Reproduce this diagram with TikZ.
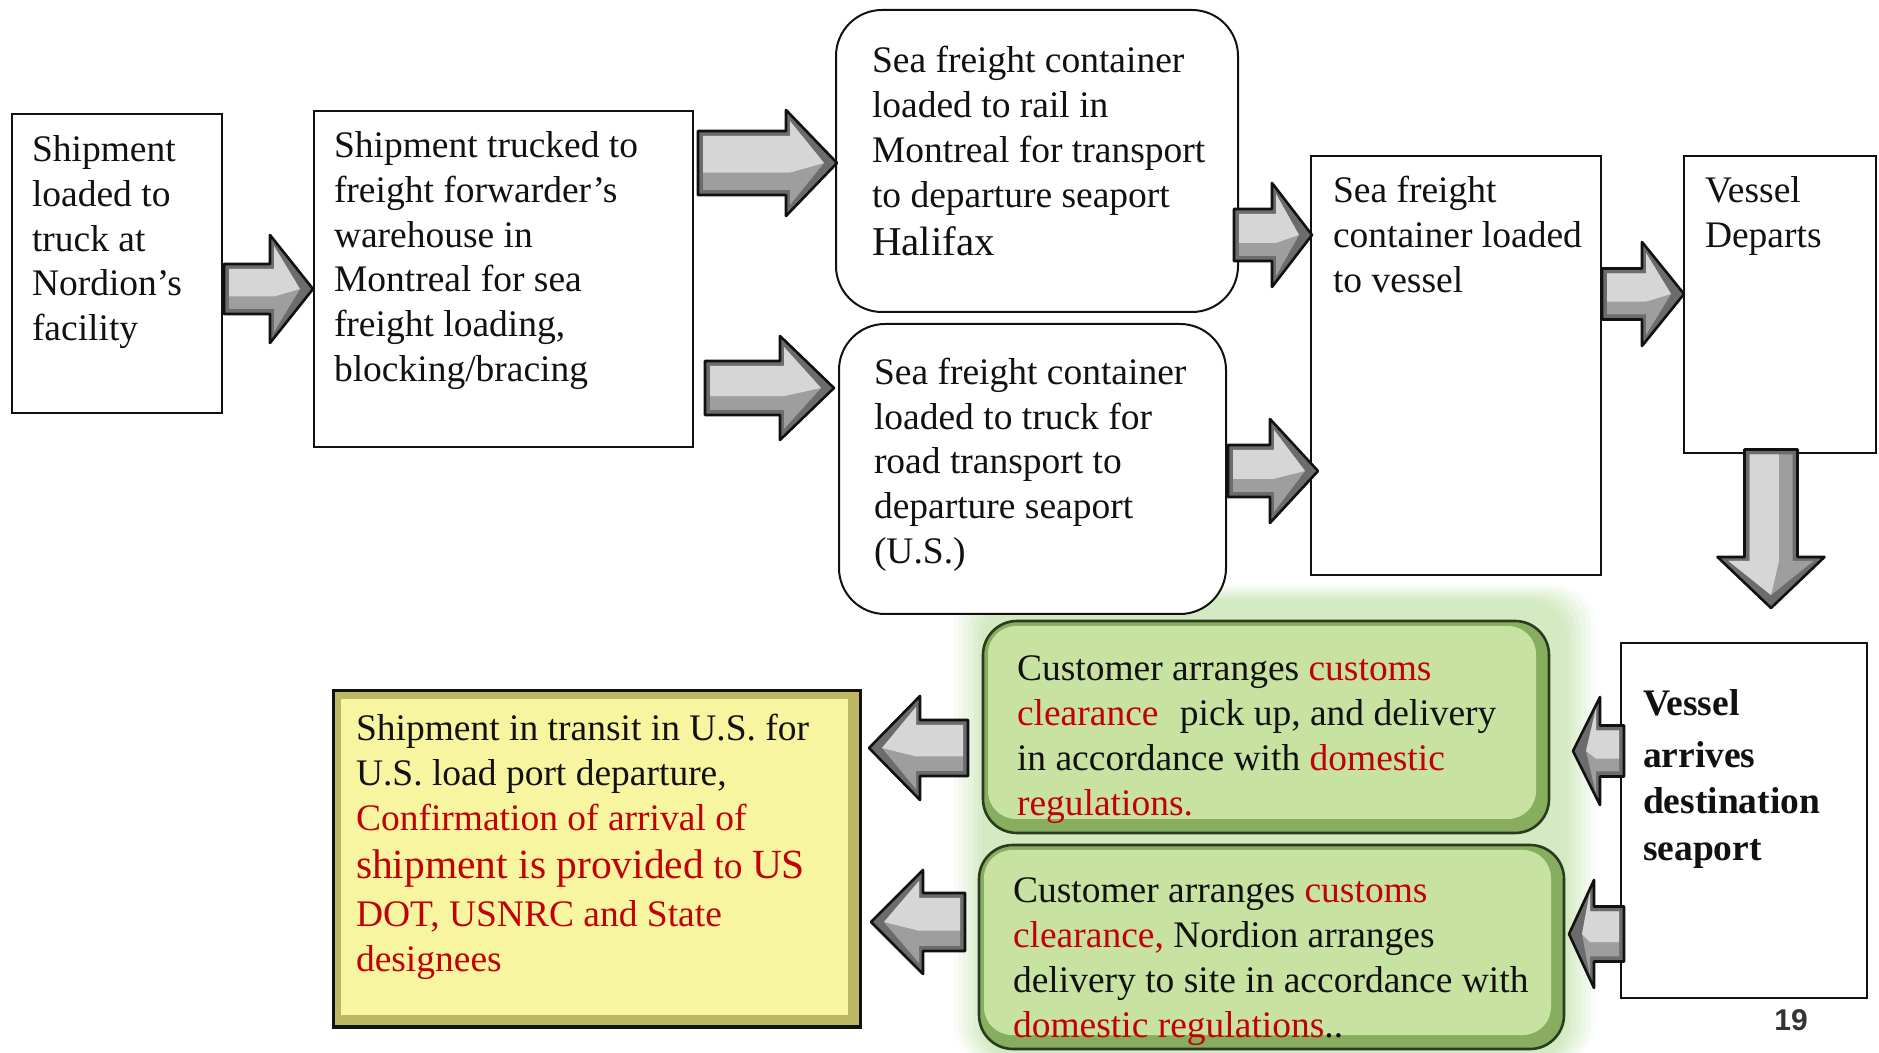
\documentclass[tikz,border=0pt]{standalone}
\usepackage{fontspec}
\setmainfont{Liberation Serif}
\newfontfamily\pagenumfont{Liberation Sans}
\usetikzlibrary{calc}

\definecolor{ink}{HTML}{111111}
\definecolor{txtred}{HTML}{C20008}
\definecolor{greenface}{HTML}{C8E2A2}
\definecolor{greenbevel}{HTML}{86AE5E}
\definecolor{greenedge}{HTML}{2C3A20}
\definecolor{greenglow}{HTML}{CDE7B8}
\definecolor{yellowface}{HTML}{F8F5A0}
\definecolor{yellowbevel}{HTML}{BDB866}
\definecolor{arrowdark}{HTML}{6C6C6C}
\definecolor{arrowmid}{HTML}{9E9E9E}
\definecolor{arrowlight}{HTML}{D6D6D6}

\newcommand\rd[1]{\textcolor{txtred}{#1}}

% 3D block arrow: [extra transform]{tail}{tip}{body half width}{head half width}{head length}
\newcommand\blockarrow[6][]{%
  \coordinate (ba-t) at #2;
  \coordinate (ba-h) at #3;
  \pgfmathanglebetweenpoints{\pgfpointanchor{ba-t}{center}}{\pgfpointanchor{ba-h}{center}}%
  \edef\baang{\pgfmathresult}%
  \pgfpointdiff{\pgfpointanchor{ba-t}{center}}{\pgfpointanchor{ba-h}{center}}%
  \pgfgetlastxy{\badx}{\bady}%
  \pgfmathveclen{\badx}{\bady}%
  \edef\balen{\pgfmathresult}%
  \begin{scope}[shift={(ba-t)}, rotate=\baang, #1]
    \fill[arrowdark] (0,-#4) -- ({\balen-#6},-#4) -- ({\balen-#6},-#5) -- (\balen,0)
      -- ({\balen-#6},#5) -- ({\balen-#6},#4) -- (0,#4) -- cycle;
    \fill[arrowmid] (5,{-#4+5}) -- ({\balen-#6+4},{-#4+5}) -- ({\balen-#6+4},{-#5+11})
      -- ({\balen-13},0) -- ({\balen-#6+4},{#5-11}) -- ({\balen-#6+4},{#4-5}) -- (5,{#4-5}) -- cycle;
    \fill[arrowlight] (5,{#4-5}) -- ({\balen-#6+4},{#4-5}) -- ({\balen-#6+4},{#5-11})
      -- ({\balen-13},0) -- ({\balen-#6+4},{-0.3*#4}) -- (5,{-0.3*#4}) -- cycle;
    \draw[ink, line width=2.6pt, line join=round] (0,-#4) -- ({\balen-#6},-#4) -- ({\balen-#6},-#5) -- (\balen,0)
      -- ({\balen-#6},#5) -- ({\balen-#6},#4) -- (0,#4) -- cycle;
  \end{scope}
}

\begin{document}
\begin{tikzpicture}[x=1pt, y=1pt,
  every node/.style={inner sep=0pt, outer sep=0pt},
  box/.style={draw=ink, line width=2pt, fill=white, rectangle},
  roundbox/.style={box, rounded corners=46pt},
  greenbox/.style={rectangle, draw=greenedge, fill=greenbevel, line width=2.6pt, rounded corners=34pt},
  yellowbox/.style={rectangle, draw=ink, fill=yellowbevel, line width=3pt},
  txt/.style={anchor=north west, align=left, text=ink, font=\fontsize{37.5}{44.8}\selectfont},
  boldtxt/.style={txt, font=\bfseries\fontsize{37.5}{46.5}\selectfont}]

\useasboundingbox (0,0) rectangle (1879,1052);
\fill[white] (0,0) rectangle (1879,1052);

% soft green halo behind the two customs boxes
\foreach \g/\o in {30/0.10, 25/0.12, 20/0.16, 15/0.2, 10/0.26, 5/0.34, 1/0.4} {
  \fill[greenglow, opacity=\o, rounded corners=40pt] ({983-\g},-10) rectangle ({1566+\g},{452+\g/2});
}

% upper process chain
\node[box, minimum width=210pt, minimum height=299pt] (A) at (117,788.5) {};
\node[box, minimum width=379pt, minimum height=336pt] (B) at (503.5,773) {};
\node[roundbox, minimum width=402pt, minimum height=302pt] (C) at (1037,891) {};
\node[roundbox, minimum width=387pt, minimum height=290pt] (D) at (1032.5,583) {};
\node[box, minimum width=290pt, minimum height=419pt] (E) at (1456,686.5) {};
\node[box, minimum width=192pt, minimum height=297pt] (F) at (1780,747.5) {};
\node[box, minimum width=246pt, minimum height=355pt] (G) at (1744,231.5) {};

% customs boxes
\node[greenbox, minimum width=566pt, minimum height=212pt] (g1) at (1266,325) {};
\fill[greenface, rounded corners=28pt] ([shift={(5,-5)}]g1.north west) rectangle ([shift={(-13,14)}]g1.south east);
\node[greenbox, minimum width=585pt, minimum height=204pt] (g2) at (1271.5,105) {};
\fill[greenface, rounded corners=28pt] ([shift={(5,-5)}]g2.north west) rectangle ([shift={(-13,14)}]g2.south east);

% transit box
\node[yellowbox, minimum width=527pt, minimum height=336pt] (Y) at (596.5,193) {};
\fill[yellowface] ([shift={(8,-8)}]Y.north west) rectangle ([shift={(-12,12)}]Y.south east);

% connecting block arrows
\blockarrow{([shift={(2,-25.5)}]A.east)}{([shift={(-1,-10)}]B.west)}{25}{54}{43}
\blockarrow{([shift={(5,116)}]B.east)}{([shift={(1,-2)}]C.west)}{32}{53}{51}
\blockarrow{([shift={(12,-109)}]B.east)}{([shift={(-5,81)}]D.west)}{27}{52}{54}
\blockarrow{([shift={(-4,-74)}]C.east)}{([shift={(1,130.5)}]E.west)}{26}{52}{40}
\blockarrow{([shift={(2,-2)}]D.east)}{([shift={(7,-105.5)}]E.west)}{26}{52}{48}
\blockarrow{([shift={(1,71.5)}]E.east)}{([shift={(0,10.5)}]F.west)}{25.5}{52}{42}
\blockarrow[yscale=-1]{([shift={(-9,3.5)}]F.south)}{([shift={(27,35)}]G.north)}{26.5}{53.5}{51}
\blockarrow[yscale=-1]{([shift={(3,69.5)}]G.west)}{([shift={(24,-24)}]g1.east)}{25.5}{54}{27}
\blockarrow[yscale=-1]{([shift={(3,-113.5)}]G.west)}{([shift={(5,13)}]g2.east)}{27.5}{54}{25}
\blockarrow[yscale=-1]{([shift={(-15,-21)}]g1.west)}{([shift={(9,111)}]Y.east)}{28}{52}{51}
\blockarrow[yscale=-1]{([shift={(-14,25)}]g2.west)}{([shift={(11,-63)}]Y.east)}{29}{52}{52}

% box texts
\node[txt] (tA) at (32,916.5) {Shipment\\loaded to\\truck at\\Nordion’s\\facility};
\node[txt] (tB) at (334,920.5) {Shipment trucked to\\freight forwarder’s\\warehouse in\\Montreal for sea\\freight loading,\\blocking/bracing};
\node[txt] (tC) at (872,1005.5) {Sea freight container\\loaded to rail in\\Montreal for transport\\to departure seaport\\[3pt]{\fontsize{41}{49}\selectfont Halifax}};
\node[txt] (tD) at (874,694) {Sea freight container\\loaded to truck for\\road transport to\\departure seaport\\(U.S.)};
\node[txt] (tE) at (1333,875.5) {Sea freight\\container loaded\\to vessel};
\node[txt] (tF) at (1705,875.5) {Vessel\\Departs};
\node[boldtxt] (tG) at (1643,362.5) {Vessel\\[5pt]arrives\\destination\\seaport};
\node[txt] (tg1) at (1017,396) {Customer arranges \rd{customs}\\\rd{clearance}\hspace{12pt} pick up, and delivery\\in accordance with \rd{domestic}\\\rd{regulations.}};
\node[txt] (tg2) at (1013,174) {Customer arranges \rd{customs}\\\rd{clearance,} Nordion arranges\\delivery to site in accordance with\\\rd{domestic regulations}..};
\node[txt] (tY) at (356,337.5) {Shipment in transit in U.S. for\\U.S. load port departure,\\\rd{Confirmation of arrival of}\\[3pt]\rd{{\fontsize{41.5}{49}\selectfont shipment is provided} to {\fontsize{41.5}{49}\selectfont US}}\\[3pt]\rd{DOT, USNRC and State}\\[1pt]\rd{designees}};

% page number
\node[font=\pagenumfont\bfseries\fontsize{30}{30}\selectfont, text=black!80] (pg) at (1791,32) {19};
\end{tikzpicture}
\end{document}
